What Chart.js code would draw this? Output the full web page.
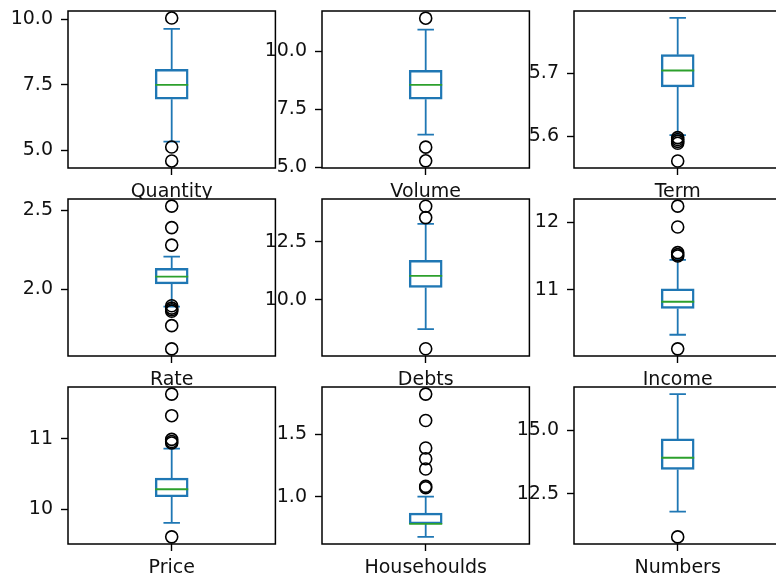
<!DOCTYPE html>
<html>
<head>
<meta charset="utf-8">
<script src="https://cdn.jsdelivr.net/npm/chart.js@4.4.1/dist/chart.umd.min.js"></script>
<style>
  html, body { margin: 0; padding: 0; background: #fff; }
  body { position: relative; width: 776px; height: 578px; overflow: hidden; }
  canvas { position: absolute; }
</style>
</head>
<body>
<script>
// one box per column of the frame
const names = ['Quantity', 'Volume', 'Term', 'Rate', 'Debts', 'Income', 'Price', 'Househoulds', 'Numbers'];
const q1s = [6.95, 7.93, 5.678, 2.033, 10.53, 10.72, 10.18, 0.781, 13.46];
const medians = [7.5, 8.55, 5.704, 2.08, 11.03, 10.82, 10.286, 0.781, 13.92];
const q3s = [8.09, 9.18, 5.729, 2.132, 11.70, 11.01, 10.443, 0.869, 14.66];
const lowWhiskers = [5.33, 6.40, 5.602, 1.889, 8.74, 10.33, 9.81, 0.677, 11.80];
const highWhiskers = [9.64, 10.94, 5.787, 2.206, 13.27, 11.443, 10.86, 1.0, 16.42];
const outliers = [
    [10.05, 5.12, 4.59],
    [11.43, 5.86, 5.27],
    [5.598, 5.595, 5.592, 5.589, 5.561],
    [2.526, 2.39, 2.279, 1.895, 1.88, 1.87, 1.86, 1.769, 1.622],
    [14.03, 13.54, 7.89],
    [12.24, 11.93, 11.55, 11.52, 11.50, 10.12],
    [11.63, 11.325, 10.99, 10.96, 10.94, 9.614],
    [1.824, 1.612, 1.391, 1.305, 1.222, 1.083, 1.072],
    [10.81]
];
const yMins = [4.32, 4.96, 5.550, 1.577, 7.58, 10.014, 9.513, 0.62, 10.53];
const yMaxs = [10.32, 11.74, 5.798, 2.571, 14.34, 12.346, 11.73, 1.881, 16.70];
const yTicks = [
    [5, 7.5, 10], [5, 7.5, 10], [5.6, 5.7],
    [2.0, 2.5], [10, 12.5], [11, 12],
    [10, 11], [1.0, 1.5], [12.5, 15]
];
const yTickLabels = [
    ['5.0', '7.5', '10.0'], ['5.0', '7.5', '10.0'], ['5.6', '5.7'],
    ['2.0', '2.5'], ['10.0', '12.5'], ['11', '12'],
    ['10', '11'], ['1.0', '1.5'], ['12.5', '15.0']
];

const BLUE = '#1f77b4';
const GREEN = '#2ca02c';
const FONT = { family: 'DejaVu Sans', size: 19 };
const LINE_W = 1.8;

const colLefts = [68, 322, 574];
const rowTops = [11, 199, 387];
const plotW = 211;
const plotH = 157;
const AXIS_W = 70;
const AXIS_H = 45;
const PAD_TOP = 12;
const PAD_RIGHT = 4;

const boxParts = {
    id: 'boxparts',
    beforeDraw(chart) {
        const { ctx, chartArea: a } = chart;
        ctx.save();
        ctx.fillStyle = '#fff';
        ctx.fillRect(a.left, a.top, a.right - a.left, a.bottom - a.top);
        ctx.restore();
    },
    beforeDatasetsDraw(chart, args, opts) {
        const i = opts.idx;
        const bar = chart.getDatasetMeta(1).data[0];
        const y = chart.scales.y;
        const ctx = chart.ctx;
        const x = bar.x;
        const cap = bar.width / 4;
        ctx.save();
        ctx.strokeStyle = BLUE;
        ctx.lineWidth = LINE_W;
        ctx.beginPath();
        ctx.moveTo(x, y.getPixelForValue(q3s[i]));
        ctx.lineTo(x, y.getPixelForValue(highWhiskers[i]));
        ctx.moveTo(x, y.getPixelForValue(q1s[i]));
        ctx.lineTo(x, y.getPixelForValue(lowWhiskers[i]));
        ctx.moveTo(x - cap, y.getPixelForValue(highWhiskers[i]));
        ctx.lineTo(x + cap, y.getPixelForValue(highWhiskers[i]));
        ctx.moveTo(x - cap, y.getPixelForValue(lowWhiskers[i]));
        ctx.lineTo(x + cap, y.getPixelForValue(lowWhiskers[i]));
        ctx.stroke();
        ctx.restore();
    },
    afterDatasetDraw(chart, args, opts) {
        if (args.index !== 1) return;
        const i = opts.idx;
        const bar = chart.getDatasetMeta(1).data[0];
        const py = chart.scales.y.getPixelForValue(medians[i]);
        const ctx = chart.ctx;
        ctx.save();
        ctx.strokeStyle = GREEN;
        ctx.lineWidth = LINE_W;
        ctx.beginPath();
        ctx.moveTo(bar.x - bar.width / 2, py);
        ctx.lineTo(bar.x + bar.width / 2, py);
        ctx.stroke();
        ctx.restore();
    },
    afterDraw(chart) {
        const { ctx, chartArea: a } = chart;
        ctx.save();
        ctx.strokeStyle = '#000';
        ctx.lineWidth = 1.5;
        ctx.strokeRect(a.left, a.top, a.right - a.left, a.bottom - a.top);
        ctx.restore();
    }
};

function makePanel(i) {
    const col = i % 3;
    const row = Math.floor(i / 3);
    const canvas = document.createElement('canvas');
    canvas.width = AXIS_W + plotW + PAD_RIGHT;
    canvas.height = PAD_TOP + plotH + AXIS_H;
    document.body.appendChild(canvas);

    const chart = new Chart(canvas, {
        data: {
            labels: [names[i]],
            datasets: [
                {
                    type: 'line',
                    data: outliers[i].map(v => ({ x: names[i], y: v })),
                    showLine: false,
                    pointRadius: 6,
                    pointBorderWidth: 1.6,
                    pointBorderColor: '#000',
                    pointBackgroundColor: 'rgba(0,0,0,0)'
                },
                {
                    type: 'bar',
                    data: [[q1s[i], q3s[i]]],
                    backgroundColor: 'rgba(0,0,0,0)',
                    borderColor: BLUE,
                    borderWidth: LINE_W,
                    borderSkipped: false,
                    barThickness: 33
                }
            ]
        },
        options: {
            responsive: false,
            animation: false,
            events: [],
            layout: { padding: { top: PAD_TOP, right: PAD_RIGHT, left: 0, bottom: 0 } },
            plugins: {
                legend: { display: false },
                tooltip: { enabled: false },
                boxparts: { idx: i }
            },
            scales: {
                x: {
                    type: 'category',
                    grid: { display: true, drawOnChartArea: false, drawTicks: true, offset: false,
                            tickLength: 7, tickColor: '#000', tickWidth: 1.4 },
                    border: { display: false },
                    ticks: { color: '#111', font: FONT, padding: 6, maxRotation: 0 },
                    afterFit(s) { s.height = AXIS_H; s.paddingLeft = 0; s.paddingRight = 0; }
                },
                y: {
                    type: 'linear',
                    min: yMins[i],
                    max: yMaxs[i],
                    afterBuildTicks(s) { s.ticks = yTicks[i].map(v => ({ value: v })); },
                    grid: { display: true, drawOnChartArea: false, drawTicks: true,
                            tickLength: 7, tickColor: '#000', tickWidth: 1.4 },
                    border: { display: false },
                    ticks: {
                        color: '#111',
                        font: FONT,
                        padding: 8,
                        callback: (v, idx) => yTickLabels[i][idx]
                    },
                    afterFit(s) { s.width = AXIS_W; s.paddingTop = 0; s.paddingBottom = 0; }
                }
            }
        },
        plugins: [boxParts]
    });

    const a = chart.chartArea;
    canvas.style.left = (colLefts[col] - a.left) + 'px';
    canvas.style.top = (rowTops[row] - a.top) + 'px';
}

for (let i = 0; i < names.length; i++) {
    makePanel(i);
}
</script>
</body>
</html>
